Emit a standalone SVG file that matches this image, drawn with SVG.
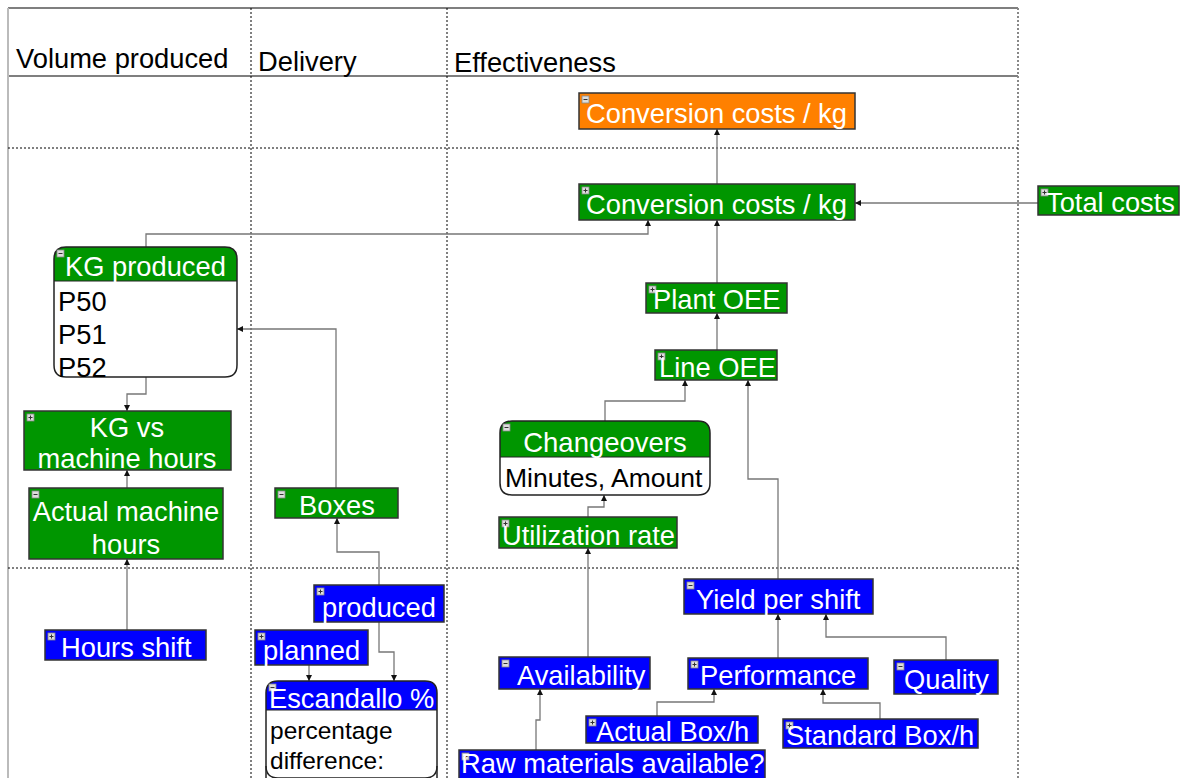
<svg xmlns="http://www.w3.org/2000/svg" width="1181" height="778" viewBox="0 0 1181 778">
  <style>
    text { font-family: "Liberation Sans", Arial, sans-serif; font-size: 27.3px; }
    .hdr { fill: #000; }
    .wt { fill: #fff; }
    .bk { fill: #000; }
    .grn { fill: #009600; stroke: #333; stroke-width: 1.5; }
    .blu { fill: #0000ff; stroke: #333; stroke-width: 1.5; }
    .org { fill: #ff8000; stroke: #333; stroke-width: 1.5; }
    .outline { fill: none; stroke: #222; stroke-width: 1.5; }
    .grid { stroke: #000; stroke-width: 1; stroke-dasharray: 2 2; fill: none; }
    .solid { stroke: #555; stroke-width: 1.5; fill: none; }
    .conn path { stroke: #777; stroke-width: 1.3; fill: none; marker-end: url(#arr); }
    .ico { fill: #ddd; stroke: #888; stroke-width: 0.8; }
  </style>
  <defs>
    <marker id="arr" viewBox="0 0 8 8" refX="8" refY="4" markerWidth="6" markerHeight="6" orient="auto" markerUnits="userSpaceOnUse">
      <path d="M0,0 L8,4 L0,8 z" fill="#111"/>
    </marker>
    <g id="plus">
      <rect class="ico" x="0" y="0" width="7" height="7"/>
      <path d="M1.5,3.5 H5.5 M3.5,1.5 V5.5" stroke="#333" stroke-width="1"/>
    </g>
    <g id="minus">
      <rect class="ico" x="0" y="0" width="7" height="7"/>
      <path d="M1.5,3.5 H5.5" stroke="#333" stroke-width="1"/>
    </g>
  </defs>

  <rect width="1181" height="778" fill="#fff"/>

  <!-- swimlane grid -->
  <g id="grid">
    <line class="solid" x1="8" y1="8" x2="1018" y2="8"/>
    <line class="solid" x1="8" y1="76" x2="1018" y2="76"/>
    <line x1="8" y1="8" x2="8" y2="778" stroke="#bbb" stroke-width="2"/>
    <line x1="1018" y1="8" x2="1018" y2="778" stroke="#888" stroke-width="2" stroke-dasharray="2 2"/>
    <line class="grid" x1="251" y1="8" x2="251" y2="778"/>
    <line class="grid" x1="447" y1="8" x2="447" y2="778"/>
    <line class="grid" x1="8" y1="148" x2="1018" y2="148"/>
    <line class="grid" x1="8" y1="568" x2="1018" y2="568"/>
    <text class="hdr" x="16" y="68">Volume produced</text>
    <text class="hdr" x="258" y="71">Delivery</text>
    <text class="hdr" x="454" y="72">Effectiveness</text>
  </g>

  <!-- connectors -->
  <g id="connectors" class="conn">
    <path d="M717,184 V129"/>
    <path d="M1038,203 H855"/>
    <path d="M146,247 V234 H648 V220"/>
    <path d="M717,283 V220"/>
    <path d="M717,350 V313"/>
    <path d="M605,421 V401 H685 V380"/>
    <path d="M778,579 V479 H748 V380"/>
    <path d="M588,517 V507 H604 V495"/>
    <path d="M588,657 V548"/>
    <path d="M536,750 V720 H540 V689"/>
    <path d="M778,658 V614"/>
    <path d="M946,660 V637 H826 V614"/>
    <path d="M657,716 V702 H714 V689"/>
    <path d="M880,719 V703 H823 V689"/>
    <path d="M146,377 V394 H127 V411"/>
    <path d="M127,488 V470"/>
    <path d="M127,630 V559"/>
    <path d="M336,488 V329 H237"/>
    <path d="M379,585 V552 H337 V518"/>
    <path d="M309,665 V681"/>
    <path d="M379,622 V652 H394 V681"/>
  </g>

  <!-- nodes -->
  <g id="conv-top">
    <rect class="org" x="579" y="93" width="276" height="36"/>
    <use href="#minus" x="582" y="96"/>
    <text class="wt" x="586" y="123">Conversion costs / kg</text>
  </g>
  <g id="conv">
    <rect class="grn" x="579" y="184" width="276" height="36"/>
    <use href="#plus" x="582" y="187"/>
    <text class="wt" x="586" y="214">Conversion costs / kg</text>
  </g>
  <g id="total-costs">
    <rect class="grn" x="1038" y="186" width="141" height="29"/>
    <use href="#plus" x="1041" y="189"/>
    <text class="wt" x="1046" y="212">Total costs</text>
  </g>
  <g id="kg-produced">
    <path d="M66,247 H225 Q237,247 237,259 V365 Q237,377 225,377 H66 Q54,377 54,365 V259 Q54,247 66,247 Z" fill="#fff"/>
    <path d="M66,247 H225 Q237,247 237,259 V281 H54 V259 Q54,247 66,247 Z" fill="#009600"/>
    <path class="outline" d="M66,247 H225 Q237,247 237,259 V365 Q237,377 225,377 H66 Q54,377 54,365 V259 Q54,247 66,247 Z"/>
    <line x1="54" y1="281" x2="237" y2="281" stroke="#222" stroke-width="1"/>
    <use href="#minus" x="57" y="250"/>
    <text class="wt" x="65" y="276">KG produced</text>
    <text class="bk" x="58" y="311">P50</text>
    <text class="bk" x="58" y="344">P51</text>
    <text class="bk" x="58" y="377">P52</text>
  </g>
  <g id="kg-vs-hours">
    <rect class="grn" x="24" y="411" width="207" height="59"/>
    <use href="#plus" x="27" y="414"/>
    <text class="wt" x="127" y="437" text-anchor="middle">KG vs</text>
    <text class="wt" x="127" y="468" text-anchor="middle">machine hours</text>
  </g>
  <g id="actual-machine-hours">
    <rect class="grn" x="29" y="488" width="194" height="71"/>
    <use href="#minus" x="32" y="491"/>
    <text class="wt" x="126" y="521" text-anchor="middle">Actual machine</text>
    <text class="wt" x="126" y="554" text-anchor="middle">hours</text>
  </g>
  <g id="boxes">
    <rect class="grn" x="275" y="488" width="123" height="30"/>
    <use href="#minus" x="278" y="491"/>
    <text class="wt" x="337" y="515" text-anchor="middle">Boxes</text>
  </g>
  <g id="hours-shift">
    <rect class="blu" x="45" y="630" width="161" height="30"/>
    <use href="#plus" x="48" y="633"/>
    <text class="wt" x="61" y="657">Hours shift</text>
  </g>
  <g id="produced">
    <rect class="blu" x="314" y="585" width="130" height="37"/>
    <use href="#plus" x="317" y="588"/>
    <text class="wt" x="322" y="617">produced</text>
  </g>
  <g id="planned">
    <rect class="blu" x="255" y="630" width="113" height="35"/>
    <use href="#plus" x="258" y="633"/>
    <text class="wt" x="263" y="660">planned</text>
  </g>
  <g id="escandallo">
    <path d="M266,778 V693 Q266,681 278,681 H425 Q437,681 437,693 V778 Z" fill="#fff"/>
    <path d="M278,681 H425 Q437,681 437,693 V710 H266 V693 Q266,681 278,681 Z" fill="#0000ff"/>
    <path class="outline" d="M266,778 V693 Q266,681 278,681 H425 Q437,681 437,693 V778"/>
    <path class="outline" d="M266,766 Q266,778 278,778 H425 Q437,778 437,766"/>
    <line x1="266" y1="710" x2="437" y2="710" stroke="#222" stroke-width="1"/>
    <use href="#minus" x="269" y="684"/>
    <text class="wt" x="269" y="708">Escandallo %</text>
    <text class="bk" x="270" y="739" style="font-size:24.5px">percentage</text>
    <text class="bk" x="270" y="769" style="font-size:24.5px">difference:</text>
  </g>
  <g id="changeovers">
    <path d="M512,421 H698 Q710,421 710,433 V483 Q710,495 698,495 H512 Q500,495 500,483 V433 Q500,421 512,421 Z" fill="#fff"/>
    <path d="M512,421 H698 Q710,421 710,433 V457 H500 V433 Q500,421 512,421 Z" fill="#009600"/>
    <path class="outline" d="M512,421 H698 Q710,421 710,433 V483 Q710,495 698,495 H512 Q500,495 500,483 V433 Q500,421 512,421 Z"/>
    <line x1="500" y1="457" x2="710" y2="457" stroke="#222" stroke-width="1"/>
    <use href="#minus" x="503" y="424"/>
    <text class="wt" x="605" y="452" text-anchor="middle" style="font-size:27.5px">Changeovers</text>
    <text class="bk" x="505" y="487" style="font-size:26.5px">Minutes, Amount</text>
  </g>
  <g id="utilization">
    <rect class="grn" x="499" y="517" width="178" height="31"/>
    <use href="#plus" x="502" y="520"/>
    <text class="wt" x="502" y="545">Utilization rate</text>
  </g>
  <g id="plant-oee">
    <rect class="grn" x="646" y="283" width="141" height="30"/>
    <use href="#plus" x="649" y="286"/>
    <text class="wt" x="653" y="309">Plant OEE</text>
  </g>
  <g id="line-oee">
    <rect class="grn" x="655" y="350" width="122" height="30"/>
    <use href="#plus" x="658" y="353"/>
    <text class="wt" x="659" y="377">Line OEE</text>
  </g>
  <g id="yield">
    <rect class="blu" x="684" y="579" width="189" height="35"/>
    <use href="#minus" x="687" y="582"/>
    <text class="wt" x="696" y="609">Yield per shift</text>
  </g>
  <g id="availability">
    <rect class="blu" x="499" y="657" width="151" height="32"/>
    <use href="#minus" x="502" y="660"/>
    <text class="wt" x="517" y="685">Availability</text>
  </g>
  <g id="performance">
    <rect class="blu" x="688" y="658" width="180" height="31"/>
    <use href="#plus" x="691" y="661"/>
    <text class="wt" x="700" y="685">Performance</text>
  </g>
  <g id="quality">
    <rect class="blu" x="894" y="660" width="104" height="34"/>
    <use href="#minus" x="897" y="663"/>
    <text class="wt" x="904" y="689">Quality</text>
  </g>
  <g id="actual-box">
    <rect class="blu" x="586" y="716" width="172" height="27"/>
    <use href="#plus" x="589" y="719"/>
    <text class="wt" x="596" y="741">Actual Box/h</text>
  </g>
  <g id="standard-box">
    <rect class="blu" x="783" y="719" width="195" height="29"/>
    <use href="#plus" x="786" y="722"/>
    <text class="wt" x="786" y="745">Standard Box/h</text>
  </g>
  <g id="raw-materials">
    <rect class="blu" x="459" y="750" width="306" height="30"/>
    <use href="#plus" x="462" y="753"/>
    <text class="wt" x="461" y="773">Raw materials available?</text>
  </g>
</svg>
